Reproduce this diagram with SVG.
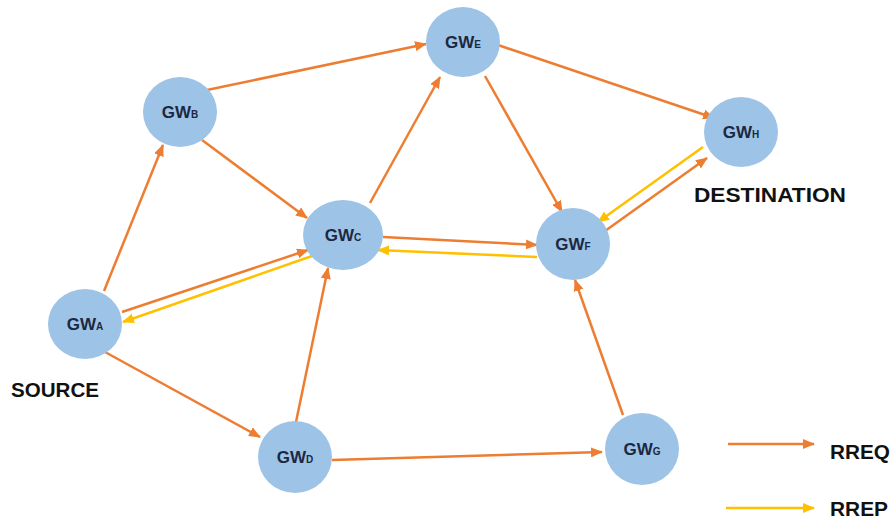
<svg xmlns="http://www.w3.org/2000/svg" width="893" height="523" viewBox="0 0 893 523">
<defs>
<marker id="ao" markerUnits="userSpaceOnUse" markerWidth="12" markerHeight="10" refX="11" refY="5" orient="auto"><path d="M0,0 L12,5 L0,10 z" fill="#ED7D31"/></marker>
<marker id="ay" markerUnits="userSpaceOnUse" markerWidth="12" markerHeight="10" refX="11" refY="5" orient="auto"><path d="M0,0 L12,5 L0,10 z" fill="#FFC000"/></marker>
<style>
.n{fill:#9DC3E6}
.t{font-family:"Liberation Sans",Arial,sans-serif;font-weight:bold;font-size:17px;fill:#1C2841}
.s{font-size:10px}
.o{stroke:#ED7D31;stroke-width:2.5;fill:none;marker-end:url(#ao)}
.y{stroke:#FFC000;stroke-width:2.5;fill:none;marker-end:url(#ay)}
.lbl{font-family:"Liberation Sans",Arial,sans-serif;font-weight:bold;font-size:21px;fill:#111}
</style>
</defs>
<rect width="893" height="523" fill="#fff"/>
<g id="connectors">
<line class="o" x1="104" y1="291" x2="163" y2="145"/>
<line class="o" x1="207" y1="90" x2="426" y2="44"/>
<line class="o" x1="202" y1="140" x2="307" y2="218"/>
<line class="o" x1="122" y1="312" x2="308" y2="250"/>
<line class="y" x1="312" y1="256" x2="123" y2="322"/>
<line class="o" x1="105" y1="352" x2="260" y2="437"/>
<line class="o" x1="296" y1="422" x2="328" y2="268"/>
<line class="o" x1="370" y1="203" x2="440" y2="77"/>
<line class="o" x1="485" y1="76" x2="562" y2="212"/>
<line class="o" x1="498" y1="45" x2="714" y2="118"/>
<line class="o" x1="383" y1="237" x2="537" y2="245"/>
<line class="y" x1="537" y1="257" x2="378" y2="250"/>
<line class="o" x1="605" y1="231" x2="707" y2="158"/>
<line class="y" x1="703" y1="147" x2="598" y2="222"/>
<line class="o" x1="332" y1="460" x2="602" y2="452"/>
<line class="o" x1="623" y1="415" x2="575" y2="280"/>
</g>
<g id="gwA"><ellipse class="n" cx="85" cy="324" rx="37" ry="35"/><text class="t" x="85" y="330" text-anchor="middle">GW<tspan class="s">A</tspan></text></g>
<g id="gwB"><ellipse class="n" cx="180" cy="112" rx="37" ry="35"/><text class="t" x="180" y="118" text-anchor="middle">GW<tspan class="s">B</tspan></text></g>
<g id="gwC"><ellipse class="n" cx="343" cy="235" rx="40" ry="35"/><text class="t" x="343" y="241" text-anchor="middle">GW<tspan class="s">C</tspan></text></g>
<g id="gwD"><ellipse class="n" cx="295" cy="457" rx="37" ry="36"/><text class="t" x="295" y="463" text-anchor="middle">GW<tspan class="s">D</tspan></text></g>
<g id="gwE"><ellipse class="n" cx="463" cy="42" rx="37" ry="35"/><text class="t" x="463" y="48" text-anchor="middle">GW<tspan class="s">E</tspan></text></g>
<g id="gwF"><ellipse class="n" cx="573" cy="244" rx="37" ry="36"/><text class="t" x="573" y="250" text-anchor="middle">GW<tspan class="s">F</tspan></text></g>
<g id="gwG"><ellipse class="n" cx="642" cy="449" rx="37" ry="36"/><text class="t" x="642" y="455" text-anchor="middle">GW<tspan class="s">G</tspan></text></g>
<g id="gwH"><ellipse class="n" cx="741" cy="132" rx="37" ry="35"/><text class="t" x="741" y="138" text-anchor="middle">GW<tspan class="s">H</tspan></text></g>
<text class="lbl" x="11" y="397" textLength="88" lengthAdjust="spacingAndGlyphs">SOURCE</text>
<text class="lbl" x="694" y="202" textLength="152" lengthAdjust="spacingAndGlyphs">DESTINATION</text>
<g id="legend">
<line class="o" x1="728" y1="444" x2="814" y2="444"/>
<text class="lbl" x="830" y="459" textLength="60" lengthAdjust="spacingAndGlyphs">RREQ</text>
<line class="y" x1="726" y1="508" x2="814" y2="508"/>
<text class="lbl" x="830" y="516" textLength="58" lengthAdjust="spacingAndGlyphs">RREP</text>
</g>
</svg>
